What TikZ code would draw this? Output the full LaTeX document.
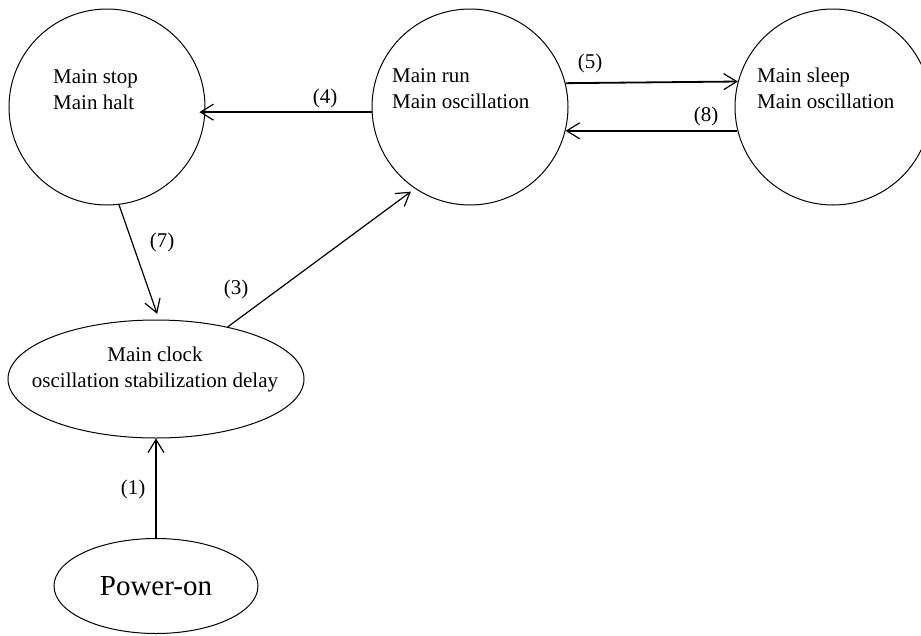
\documentclass[tikz,border=0pt]{standalone}
\usepackage{fontspec}
\setmainfont{Liberation Serif}
\usetikzlibrary{arrows.meta,shapes.geometric}
\begin{document}
\begin{tikzpicture}[x=1pt,y=-1pt,
  state/.style={circle,draw,line width=1pt,minimum size=196pt,inner sep=0pt},
  oval/.style={ellipse,draw,line width=1pt,inner sep=0pt},
  txt/.style={anchor=base west,inner sep=0pt,font=\fontsize{21}{25}\selectfont},
  ctxt/.style={anchor=base,inner sep=0pt,font=\fontsize{21}{25}\selectfont},
  tag/.style={inner sep=0pt,font=\fontsize{21}{25}\selectfont},
  arr/.style={-{Straight Barb[length=13pt,width=16pt,line width=1.2pt]},line width=1.8pt},
  thinarr/.style={-{Straight Barb[length=13pt,width=16pt,line width=1.2pt]},line width=1.2pt}]
\useasboundingbox (0,0) rectangle (921,635);

% states
\node[state] (stop) at (107,107) {};
\node[state] (run) at (470,107) {};
\node[state] (sleep) at (833,107) {};
\node[oval,minimum width=296pt,minimum height=118pt] (clock) at (156,379) {};
\node[oval,minimum width=204pt,minimum height=95pt,font=\fontsize{29}{33}\selectfont] (power) at (156,586) {Power-on};

% state texts
\node[txt] (stopA) at (53,83) {Main stop};
\node[txt] (stopB) at (53,109) {Main halt};
\node[txt] (runA) at (392,82) {Main run};
\node[txt] (runB) at (392,108) {Main oscillation};
\node[txt] (sleepA) at (757,82) {Main sleep};
\node[txt] (sleepB) at (757,108) {Main oscillation};
\node[ctxt] (clockA) at (155,361) {Main clock};
\node[ctxt] (clockB) at (155,387) {oscillation stabilization delay};

% transitions
\draw[arr] (power.north) -- (clock.south);
\draw[thinarr,shorten >=6pt] (stop.-83.6) -- (clock.87);
\draw[thinarr,shorten >=5pt] (clock.36) -- (run.236.5);
\draw[arr,shorten >=-6pt] (run.183.5) -- (stop.-3.5);
\draw[arr] (run.14.2) -- (sleep.165.8);
\draw[arr] (sleep.194.8) -- (run.-14.8);

% transition numbers
\node[tag] (t1) at (133,489) {(1)};
\node[tag] (t3) at (236,289) {(3)};
\node[tag] (t4) at (325,98) {(4)};
\node[tag] (t5) at (590,63) {(5)};
\node[tag] (t7) at (162,242) {(7)};
\node[tag] (t8) at (706,116) {(8)};
\end{tikzpicture}
\end{document}
